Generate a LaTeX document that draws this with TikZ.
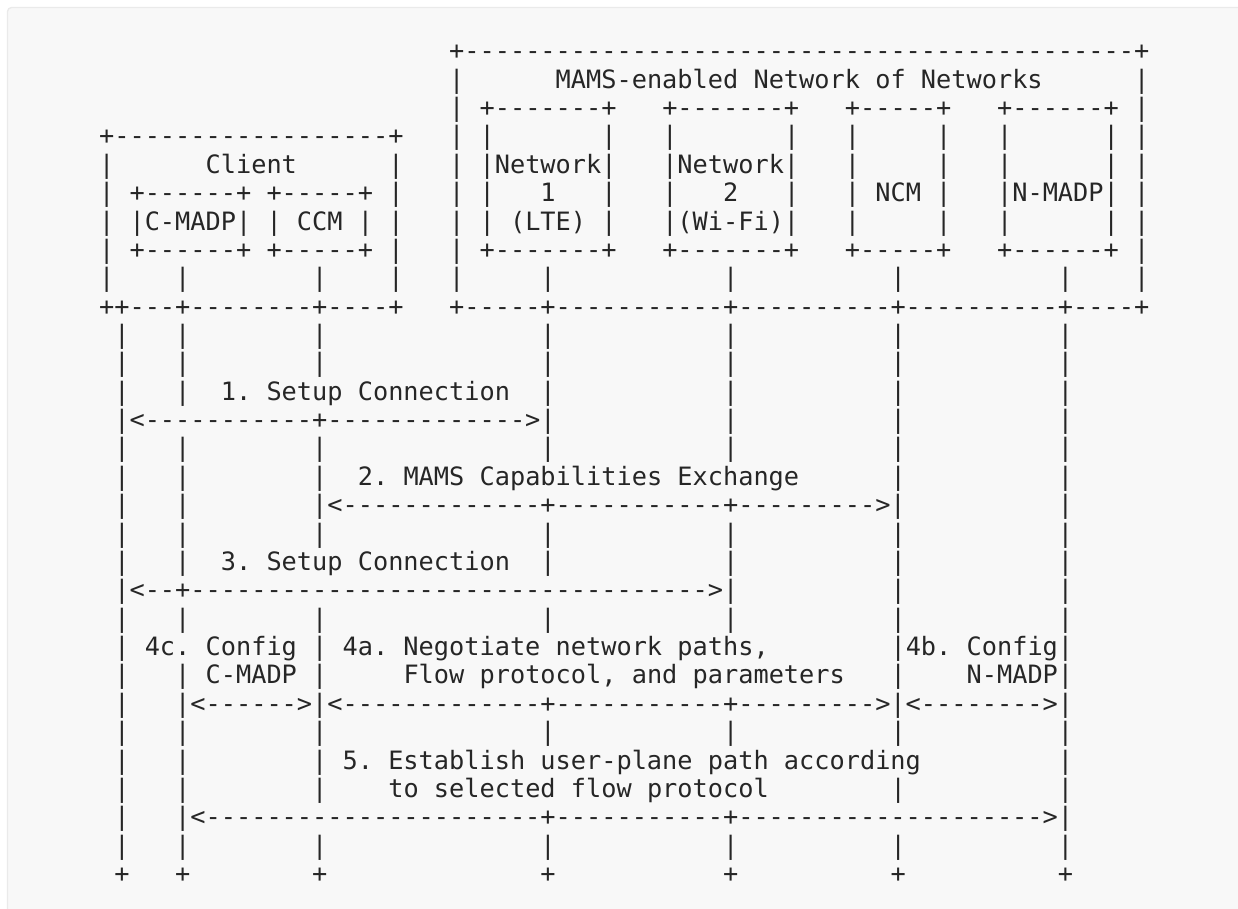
\documentclass[tikz,border=0pt]{standalone}
\usepackage{fontspec}
\setmonofont{DejaVu Sans Mono}
\ExplSyntaxOn
\cs_new:Npn \myrep #1#2 { \prg_replicate:nn {#1} {#2} }
\ExplSyntaxOff
\definecolor{ink}{HTML}{262626}
\definecolor{panelbg}{HTML}{F8F8F8}
\definecolor{panelline}{HTML}{EAEAEA}
\tikzset{asc/.style={anchor=base west, inner sep=0pt, outer sep=0pt, text=ink,
  font=\ttfamily\frenchspacing\fontsize{25.28}{28}\selectfont}}
\newcommand\aseg[3]{\node[asc] (r#1c#2) at ({99.1+15.22*#2},{-(59.8+28.37*#1)}) {#3};}
\newcommand\lifes[1]{\foreach \cc in {1,5,14,29,41,52,63}{\aseg{#1}{\cc}{|}}}
\begin{document}
\begin{tikzpicture}[x=1pt,y=1pt]
\useasboundingbox (0,0) rectangle (1238,-908);
\fill[white] (0,0) rectangle (1238,-908);
\draw[draw=panelline, fill=panelbg, line width=1.3pt, rounded corners=4pt] (7.5,-7.5) rectangle (1260,-930);
% row 0-2 : network box top
\aseg{0}{23}{+\myrep{44}{-}+}
\aseg{1}{23}{|} \aseg{1}{30}{MAMS-enabled Network of Networks} \aseg{1}{68}{|}
\aseg{2}{23}{|} \aseg{2}{25}{+\myrep{7}{-}+} \aseg{2}{37}{+\myrep{7}{-}+}
\aseg{2}{49}{+\myrep{5}{-}+} \aseg{2}{59}{+\myrep{6}{-}+} \aseg{2}{68}{|}
% row 3
\aseg{3}{0}{+\myrep{18}{-}+}
\foreach \cc in {23,25,33,37,45,49,55,59,66,68}{\aseg{3}{\cc}{|}}
% row 4
\aseg{4}{0}{|} \aseg{4}{7}{Client} \aseg{4}{19}{|} \aseg{4}{23}{|}
\aseg{4}{25}{|Network|} \aseg{4}{37}{|Network|}
\foreach \cc in {49,55,59,66,68}{\aseg{4}{\cc}{|}}
% row 5
\aseg{5}{0}{|} \aseg{5}{2}{+\myrep{6}{-}+} \aseg{5}{11}{+\myrep{5}{-}+} \aseg{5}{19}{|}
\aseg{5}{23}{|} \aseg{5}{25}{|} \aseg{5}{29}{1} \aseg{5}{33}{|}
\aseg{5}{37}{|} \aseg{5}{41}{2} \aseg{5}{45}{|}
\aseg{5}{49}{|} \aseg{5}{51}{NCM} \aseg{5}{55}{|}
\aseg{5}{59}{|N-MADP|} \aseg{5}{68}{|}
% row 6
\aseg{6}{0}{|} \aseg{6}{2}{|C-MADP|} \aseg{6}{11}{|} \aseg{6}{13}{CCM} \aseg{6}{17}{|} \aseg{6}{19}{|}
\aseg{6}{23}{|} \aseg{6}{25}{|} \aseg{6}{27}{(LTE)} \aseg{6}{33}{|}
\aseg{6}{37}{|(Wi-Fi)|}
\foreach \cc in {49,55,59,66,68}{\aseg{6}{\cc}{|}}
% row 7
\aseg{7}{0}{|} \aseg{7}{2}{+\myrep{6}{-}+} \aseg{7}{11}{+\myrep{5}{-}+} \aseg{7}{19}{|}
\aseg{7}{23}{|} \aseg{7}{25}{+\myrep{7}{-}+} \aseg{7}{37}{+\myrep{7}{-}+}
\aseg{7}{49}{+\myrep{5}{-}+} \aseg{7}{59}{+\myrep{6}{-}+} \aseg{7}{68}{|}
% row 8
\foreach \cc in {0,5,14,19,23,29,41,52,63,68}{\aseg{8}{\cc}{|}}
% row 9 : box bottoms
\aseg{9}{0}{++\myrep{3}{-}+\myrep{8}{-}+\myrep{4}{-}+}
\aseg{9}{23}{+\myrep{5}{-}+\myrep{11}{-}+\myrep{10}{-}+\myrep{10}{-}+\myrep{4}{-}+}
% lifelines and messages
\lifes{10} \lifes{11}
\aseg{12}{1}{|} \aseg{12}{5}{|} \aseg{12}{8}{1. Setup Connection}
\aseg{12}{29}{|} \aseg{12}{41}{|} \aseg{12}{52}{|} \aseg{12}{63}{|}
\aseg{13}{1}{|<\myrep{11}{-}+\myrep{13}{-}>|} \aseg{13}{41}{|} \aseg{13}{52}{|} \aseg{13}{63}{|}
\lifes{14}
\aseg{15}{1}{|} \aseg{15}{5}{|} \aseg{15}{14}{|} \aseg{15}{17}{2. MAMS Capabilities Exchange}
\aseg{15}{52}{|} \aseg{15}{63}{|}
\aseg{16}{1}{|} \aseg{16}{5}{|} \aseg{16}{14}{|<\myrep{13}{-}+\myrep{11}{-}+\myrep{9}{-}>|} \aseg{16}{63}{|}
\lifes{17}
\aseg{18}{1}{|} \aseg{18}{5}{|} \aseg{18}{8}{3. Setup Connection}
\aseg{18}{29}{|} \aseg{18}{41}{|} \aseg{18}{52}{|} \aseg{18}{63}{|}
\aseg{19}{1}{|<\myrep{2}{-}+\myrep{34}{-}>|} \aseg{19}{52}{|} \aseg{19}{63}{|}
\lifes{20}
\aseg{21}{1}{|} \aseg{21}{3}{4c. Config} \aseg{21}{14}{|}
\aseg{21}{16}{4a. Negotiate network paths,} \aseg{21}{52}{|4b. Config|}
\aseg{22}{1}{|} \aseg{22}{5}{|} \aseg{22}{7}{C-MADP} \aseg{22}{14}{|}
\aseg{22}{20}{Flow protocol, and parameters} \aseg{22}{52}{|} \aseg{22}{57}{N-MADP|}
\aseg{23}{1}{|}
\aseg{23}{5}{|<\myrep{6}{-}>|<\myrep{13}{-}+\myrep{11}{-}+\myrep{9}{-}>|<\myrep{8}{-}>|}
\lifes{24}
\aseg{25}{1}{|} \aseg{25}{5}{|} \aseg{25}{14}{|}
\aseg{25}{16}{5. Establish user-plane path according} \aseg{25}{63}{|}
\aseg{26}{1}{|} \aseg{26}{5}{|} \aseg{26}{14}{|}
\aseg{26}{19}{to selected flow protocol} \aseg{26}{52}{|} \aseg{26}{63}{|}
\aseg{27}{1}{|} \aseg{27}{5}{|<\myrep{22}{-}+\myrep{11}{-}+\myrep{20}{-}>|}
\lifes{28}
\foreach \cc in {1,5,14,29,41,52,63}{\aseg{29}{\cc}{+}}
\end{tikzpicture}
\end{document}
